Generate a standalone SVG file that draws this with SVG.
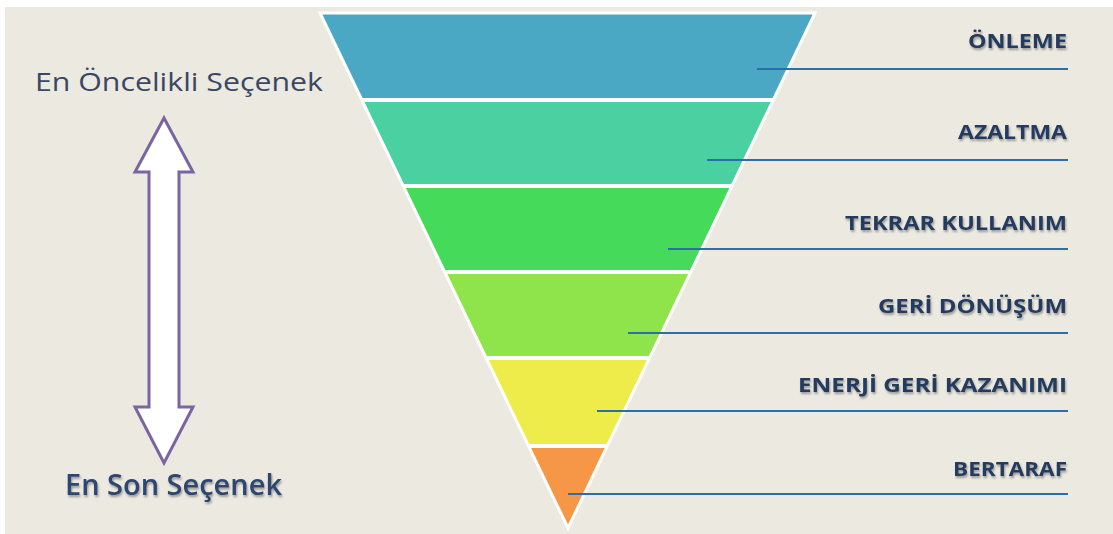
<svg xmlns="http://www.w3.org/2000/svg" width="1113" height="534" viewBox="0 0 1113 534">
  <defs>
    <style>
      .lbl { font-family: "Open Sans", "Liberation Sans", sans-serif; font-weight: 700; font-size: 20px; fill: #233A5F; text-anchor: end; filter: url(#shadow); }
      .side { font-family: "Open Sans", "Liberation Sans", sans-serif; fill: #3A4863; }
      .lead { stroke: #2C6EAC; stroke-width: 2.2; }
      .sep { stroke: #FFFFFF; stroke-width: 4; }
    </style>
    <filter id="shadow" x="-10%" y="-30%" width="120%" height="170%">
      <feDropShadow dx="1" dy="2" stdDeviation="1.2" flood-color="#000000" flood-opacity="0.35"/>
    </filter>
    <clipPath id="funnel">
      <polygon points="320,13 815,13 568,528"/>
    </clipPath>
  </defs>

  <!-- page -->
  <rect x="0" y="0" width="1113" height="534" fill="#FFFFFF"/>
  <rect x="5" y="7" width="1108" height="527" fill="#ECE9E0"/>

  <!-- priority scale on the left -->
  <g id="scale">
    <text class="side" x="35" y="91" font-size="25" textLength="288" lengthAdjust="spacingAndGlyphs">En Öncelikli Seçenek</text>
    <polygon points="164,118 193,172 179,172 179,407 193,407 164,463 135,407 149,407 149,172 135,172" fill="#FFFFFF" stroke="#7A65A0" stroke-width="3" stroke-linejoin="miter"/>
    <text class="side" x="65" y="495" font-size="28" font-weight="600" style="fill:#2E4670;filter:url(#shadow)" textLength="217" lengthAdjust="spacingAndGlyphs">En Son Seçenek</text>
  </g>

  <!-- inverted funnel bands -->
  <g id="funnel-bands" clip-path="url(#funnel)">
    <rect id="band-onleme" x="300" y="10" width="540" height="90" fill="#4BA8C5"/>
    <rect id="band-azaltma" x="300" y="100" width="540" height="86" fill="#4BD1A1"/>
    <rect id="band-tekrar" x="300" y="186" width="540" height="86" fill="#46DA5A"/>
    <rect id="band-geri" x="300" y="272" width="540" height="86" fill="#8FE44B"/>
    <rect id="band-enerji" x="300" y="358" width="540" height="88" fill="#EDEC4A"/>
    <rect id="band-bertaraf" x="300" y="446" width="540" height="90" fill="#F59746"/>
  </g>
  <g id="funnel-outline">
    <line class="sep" x1="300" y1="100" x2="840" y2="100" clip-path="url(#funnel)"/>
    <line class="sep" x1="300" y1="186" x2="840" y2="186" clip-path="url(#funnel)"/>
    <line class="sep" x1="300" y1="272" x2="840" y2="272" clip-path="url(#funnel)"/>
    <line class="sep" x1="300" y1="358" x2="840" y2="358" clip-path="url(#funnel)"/>
    <line class="sep" x1="300" y1="446" x2="840" y2="446" clip-path="url(#funnel)"/>
    <polygon points="320,13 815,13 568,528" fill="none" stroke="#FFFFFF" stroke-width="3" stroke-linejoin="miter"/>
  </g>

  <!-- leader lines -->
  <g id="connectors">
    <line class="lead" x1="757" y1="69" x2="1068" y2="69"/>
    <line class="lead" x1="707" y1="160" x2="1068" y2="160"/>
    <line class="lead" x1="668" y1="249" x2="1068" y2="249"/>
    <line class="lead" x1="628" y1="333" x2="1068" y2="333"/>
    <line class="lead" x1="597" y1="411" x2="1068" y2="411"/>
    <line class="lead" x1="568" y1="494" x2="1068" y2="494"/>
  </g>

  <!-- labels -->
  <g id="label-onleme"><text class="lbl" x="1067" y="48" textLength="99" lengthAdjust="spacingAndGlyphs">ÖNLEME</text></g>
  <g id="label-azaltma"><text class="lbl" x="1067" y="139" textLength="109" lengthAdjust="spacingAndGlyphs">AZALTMA</text></g>
  <g id="label-tekrar"><text class="lbl" x="1067" y="230" textLength="222" lengthAdjust="spacingAndGlyphs">TEKRAR KULLANIM</text></g>
  <g id="label-geri"><text class="lbl" x="1067" y="313" textLength="189" lengthAdjust="spacingAndGlyphs">GERİ DÖNÜŞÜM</text></g>
  <g id="label-enerji"><text class="lbl" x="1067" y="392" textLength="269" lengthAdjust="spacingAndGlyphs">ENERJİ GERİ KAZANIMI</text></g>
  <g id="label-bertaraf"><text class="lbl" x="1067" y="476" textLength="114" lengthAdjust="spacingAndGlyphs">BERTARAF</text></g>
</svg>
